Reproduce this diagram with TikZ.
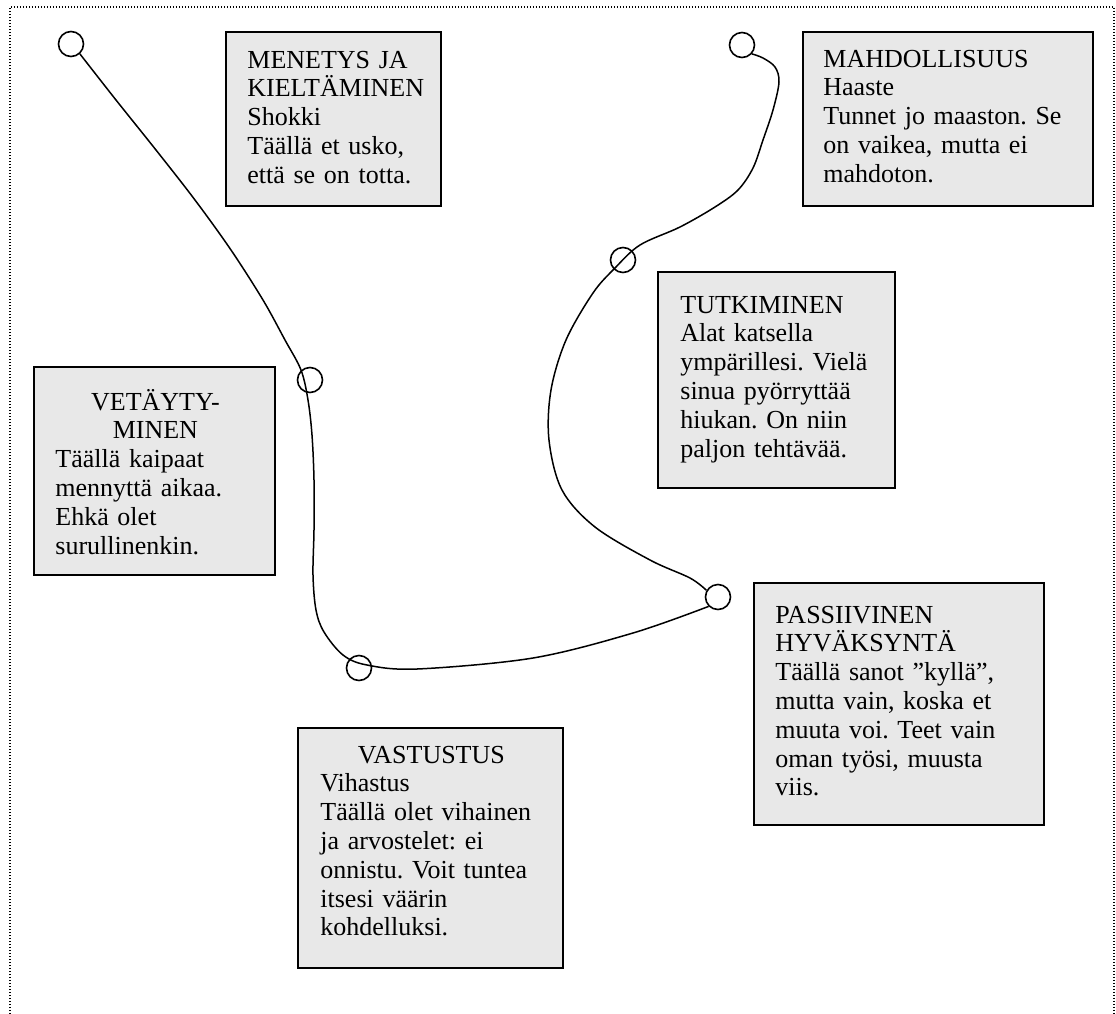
\documentclass[tikz,border=0pt]{standalone}
\usepackage{fontspec}
\setmainfont{Liberation Serif}
\frenchspacing
\definecolor{boxgray}{RGB}{232,232,232}
\begin{document}
\begin{tikzpicture}[x=0.5pt, y=-0.5pt,
  panel/.style={draw=black, line width=0.9pt, fill=boxgray, rectangle,
    inner sep=0pt, outer sep=0pt, anchor=north west},
  label/.style={inner sep=0pt, anchor=base west, align=left,
    font=\fontsize{13pt}{14.4pt}\selectfont\frenchspacing},
  ring/.style={circle, draw=black, line width=0.8pt, fill=white,
    minimum size=12.5pt, inner sep=0pt},
  route/.style={draw=black, line width=0.75pt, line join=round},
  frame/.style={draw=black, line width=0.6pt, dash pattern=on 0.7pt off 0.8pt}]

\useasboundingbox (0,0) rectangle (1116,1014);
\draw[frame] (10,1014) -- (10,7) -- (1114,7) -- (1114,1014);

% stage boxes
\node[panel, minimum width=107.5pt, minimum height=87pt] (shock) at (226,32) {};
\node[panel, minimum width=145pt, minimum height=87pt] (chance) at (803,32) {};
\node[panel, minimum width=118.5pt, minimum height=108pt] (explore) at (658,272) {};
\node[panel, minimum width=120.5pt, minimum height=104pt] (retreat) at (34,367) {};
\node[panel, minimum width=145pt, minimum height=121pt] (passive) at (754,583) {};
\node[panel, minimum width=132.5pt, minimum height=120pt] (resist) at (298,728) {};

% box texts
\node[label, text width=95pt] (tshock) at (247,68)
  {MENETYS JA\\KIELTÄMINEN\\Shokki\\Täällä et usko,\\että se on totta.};
\node[label, text width=132pt] (tchance) at (823,67)
  {MAHDOLLISUUS\\Haaste\\Tunnet jo maaston. Se\\on vaikea, mutta ei\\mahdoton.};
\node[label, text width=105pt] (texplore) at (680,313)
  {TUTKIMINEN\\Alat katsella\\ympärillesi. Vielä\\sinua pyörryttää\\hiukan. On niin\\paljon tehtävää.};
\node[label, text width=100pt] (tretreat) at (55,410)
  {{\centering VETÄYTY-\\MINEN\par}Täällä kaipaat\\mennyttä aikaa.\\Ehkä olet\\surullinenkin.};
\node[label, text width=132pt] (tpassive) at (775,623)
  {PASSIIVINEN\\HYVÄKSYNTÄ\\Täällä sanot ”kyllä”,\\mutta vain, koska et\\muuta voi. Teet vain\\oman työsi, muusta\\viis.};
\node[label, text width=111pt] (tresist) at (320,763)
  {{\centering VASTUSTUS\par}Vihastus\\Täällä olet vihainen\\ja arvostelet: ei\\onnistu. Voit tuntea\\itsesi väärin\\kohdelluksi.};

% stage markers
\node[ring] (c1) at (71,44) {};
\node[ring] (c2) at (742,45) {};
\node[ring] (c3) at (623,260) {};
\node[ring] (c4) at (310,380) {};
\node[ring] (c5) at (359,668) {};
\node[ring] (c6) at (718,597) {};

% the change curve, down and back up
\draw[route] plot[smooth, tension=0.55] coordinates {
  (c1.-48) (116,100) (156,150) (195,200) (231,250) (263,300) (285,340)
  (301,370) (308,400) (312,435) (314,480) (314,530) (313,575)
  (316,610) (324,632) (343,655) (367,665) (417,669) (533,658)
  (633,633) (c6.225)};
\draw[route] plot[smooth, tension=0.55] coordinates {
  (c6.150) (690,578) (650,560) (595,527) (562,490) (549,440)
  (551,390) (566,340) (593,293) (615,268) (640,245) (680,227)
  (715,207) (738,190) (753,168) (763,140) (773,110) (779,82)
  (775,67) (763,58) (c2.-42)};
\end{tikzpicture}
\end{document}
